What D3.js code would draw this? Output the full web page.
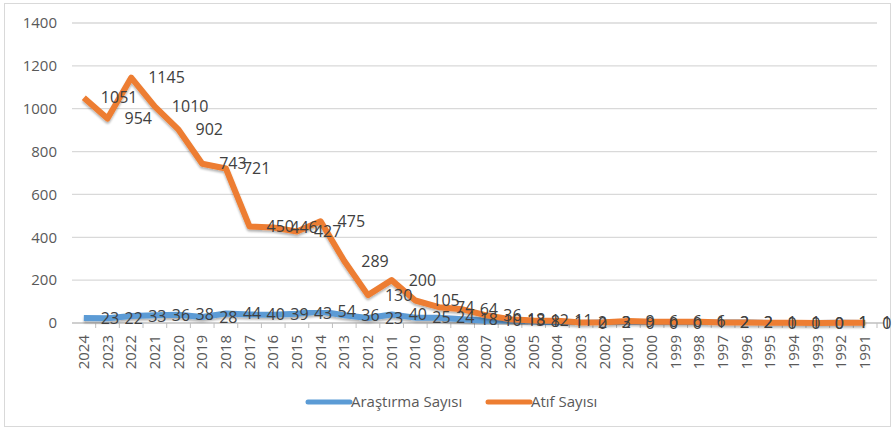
<!DOCTYPE html>
<html>
<head>
<meta charset="utf-8">
<script src="https://cdn.jsdelivr.net/npm/d3@7"></script>
<style>
  body { margin: 0; background: #fff; }
  svg { display: block; font-family: "Open Sans", "Noto Sans", sans-serif; }
</style>
</head>
<body>
<div id="chart"></div>
<script>
// years, newest first (as in the source chart)
const years = ["2024","2023","2022","2021","2020","2019","2018","2017","2016","2015","2014","2013",
  "2012","2011","2010","2009","2008","2007","2006","2005","2004","2003","2002","2001","2000",
  "1999","1998","1997","1996","1995","1994","1993","1992","1991"];

// Araştırma Sayısı
const arastirma = [23,22,33,36,38,28,44,40,39,43,54,36,23,40,25,24,18,10,13,8,1,0,2,0,0,0,1,2,2,0,0,0,1,0];

// Atıf Sayısı
const atif = [1051,954,1145,1010,902,743,721,450,446,427,475,289,130,200,105,74,64,36,18,12,11,2,3,9,6,6,6,2,2,1,1,0,1,1];

const yTicks = [0,200,400,600,800,1000,1200,1400];

const series = [
  { name: "Araştırma Sayısı", values: arastirma, color: "#5B9BD5" },
  { name: "Atıf Sayısı", values: atif, color: "#ED7D31" }
];

const width = 895, height = 429;
const svg = d3.select("#chart").append("svg")
  .attr("width", width).attr("height", height);

// drop shadow like the office chart lines
const defs = svg.append("defs");
const f = defs.append("filter").attr("id", "shadow")
  .attr("x", "-5%").attr("y", "-5%").attr("width", "110%").attr("height", "120%");
f.append("feDropShadow").attr("dx", 0).attr("dy", 2).attr("stdDeviation", 1.2)
  .attr("flood-color", "#000").attr("flood-opacity", 0.3);

//outer border
svg.append("rect")
  .attr("x", 4.5).attr("y", 3.5).attr("width", 886).attr("height", 423)
  .attr("fill", "none").attr("stroke", "#d9d9d9").attr("stroke-width", 1);

const x = d3.scaleBand().domain(years).range([72, 877]);
const y = d3.scaleLinear().domain([0, 1400]).range([323, 23]);

// gridlines
svg.append("g").selectAll("line")
  .data(yTicks.slice(1))
  .enter().append("line")
  .attr("x1", 72).attr("x2", 877)
  .attr("y1", d => y(d)).attr("y2", d => y(d))
  .attr("stroke", "#d9d9d9").attr("stroke-width", 1.3);

// y axis labels
svg.append("g").selectAll("text")
  .data(yTicks)
  .enter().append("text")
  .attr("x", 57).attr("y", d => y(d))
  .attr("dy", "0.35em")
  .attr("text-anchor", "end")
  .attr("font-size", 15)
  .attr("fill", "#595959")
  .text(d => d);

// x axis line + ticks
const xAxis = svg.append("g").attr("transform", `translate(0,${y(0)})`)
  .call(d3.axisBottom(x).tickSize(5).tickFormat(""));
xAxis.select(".domain").attr("stroke", "#bfbfbf").attr("stroke-width", 1.3)
  .attr("d", "M72,0H884");
xAxis.selectAll(".tick line")
  .attr("stroke", "#bfbfbf")
  .attr("transform", `translate(${x.bandwidth() / 2},0)`);

// rotated year labels
svg.append("g").selectAll("text")
  .data(years)
  .enter().append("text")
  .attr("transform", d => `translate(${x(d) + x.bandwidth() / 2 + 5},335) rotate(-90)`)
  .attr("text-anchor", "end")
  .attr("font-size", 15)
  .attr("fill", "#595959")
  .text(d => d);

// lines
const line = d3.line()
  .x((d, i) => x(years[i]) + x.bandwidth() / 2)
  .y(d => y(d));

svg.append("g").selectAll("path")
  .data(series)
  .enter().append("path")
  .attr("d", d => line(d.values))
  .attr("fill", "none")
  .attr("stroke", d => d.color)
  .attr("stroke-width", 6)
  .attr("stroke-linejoin", "round")
  .attr("filter", "url(#shadow)");

// data labels, right of each point
series.forEach(s => {
  svg.append("g").selectAll("text")
    .data(s.values)
    .enter().append("text")
    .attr("x", (d, i) => x(years[i]) + x.bandwidth() / 2 + 17)
    .attr("y", d => y(d))
    .attr("dy", "0.35em")
    .attr("font-size", 16)
    .attr("fill", "#404040")
    .text(d => d);
});

// legend
const legend = svg.append("g");
const legendItems = [
  { s: series[0], x1: 308, tx: 351 },
  { s: series[1], x1: 488, tx: 531 }
];
legendItems.forEach(l => {
  legend.append("line")
    .attr("x1", l.x1).attr("x2", l.x1 + 42)
    .attr("y1", 402).attr("y2", 402)
    .attr("stroke", l.s.color).attr("stroke-width", 5)
    .attr("stroke-linecap", "round");
  legend.append("text")
    .attr("x", l.tx).attr("y", 402).attr("dy", "0.35em")
    .attr("font-size", 15)
    .attr("fill", "#595959")
    .text(l.s.name);
});
</script>
</body>
</html>
